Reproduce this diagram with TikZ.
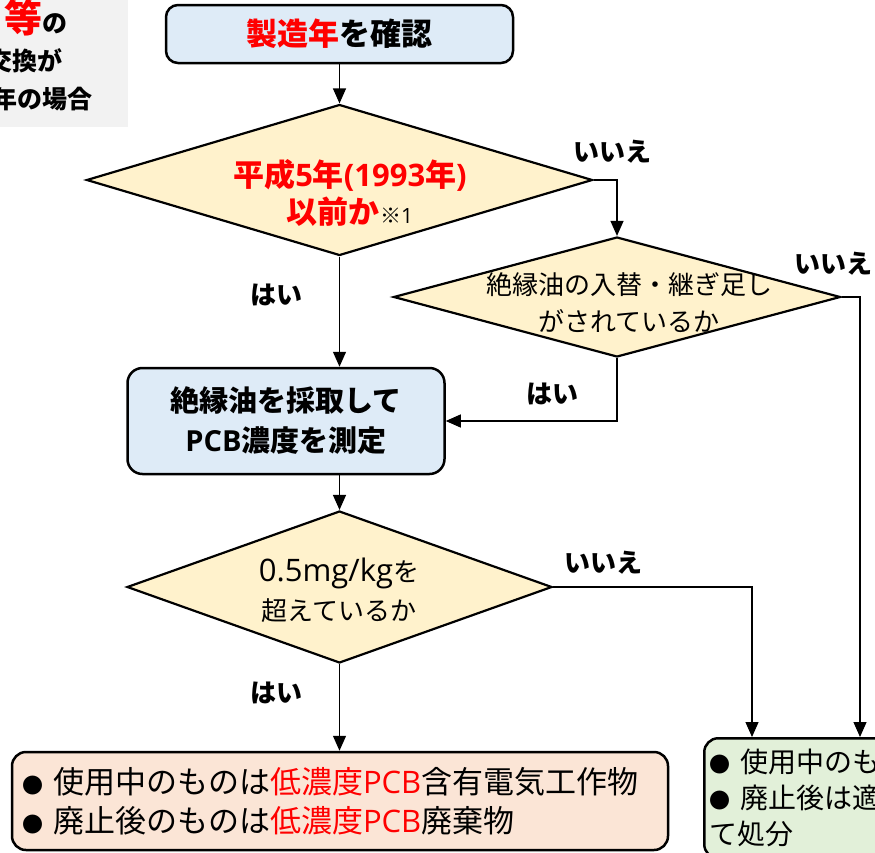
\documentclass[tikz,border=0pt]{standalone}
\usepackage{fontspec}
\setmainfont{Noto Sans CJK JP}
\newfontfamily\latinfont{Open Sans}
\usetikzlibrary{shapes.geometric,arrows.meta,positioning,calc}
\definecolor{boxblue}{HTML}{DEEBF7}
\definecolor{boxyellow}{HTML}{FFF2CC}
\definecolor{boxpink}{HTML}{FBE5D6}
\definecolor{boxgreen}{HTML}{E2F0D9}
\definecolor{boxgray}{HTML}{F2F2F2}
\definecolor{textred}{HTML}{FF0000}
\newcommand{\fs}[2]{\fontsize{#1}{#2}\selectfont}
\newcommand{\lat}[1]{{\latinfont #1}}
\newcommand{\dotmark}{{\fs{21}{21}●}\hspace{10pt}}

\begin{document}
\begin{tikzpicture}[x=1pt, y=-1pt,
		process/.style={draw, line width=2.5pt, rounded corners=12pt, fill=boxblue, inner sep=0pt, align=center},
		decision/.style={draw, diamond, line width=2.2pt, fill=boxyellow, inner sep=0pt},
		result/.style={draw, line width=2.5pt, rounded corners=14pt, align=left},
		flow/.style={line width=1.2pt, -{Triangle[length=15pt,width=13pt]}},
		answer/.style={font=\fs{26}{26}\bfseries, inner sep=0pt},
		note/.style={font=\fs{25}{25}\bfseries, inner sep=0pt}
		]
	\useasboundingbox (0,0) rectangle (875,852);
	\clip (0,0) rectangle (875,852);
	% note box, cut off at the left
	\fill[boxgray] (-250,-10) rectangle (128,127);
	\node[note, anchor=base east] (note1) at (68,32) {{\color{textred}\fs{38}{38}等}の};
	\node[note, anchor=base east] (note2) at (63,70) {交換が};
	\node[note, anchor=base east] (note3) at (93,108) {年の場合};

	% flow
	\node[process, minimum width=347pt, minimum height=58pt, font=\fs{31}{31}\bfseries] (year) at (339.5,34)
		{\textcolor{textred}{製造年}を確認};
	\node[decision, minimum width=506pt, minimum height=151pt] (d1) at (339.5,180) {};
	\node[font=\fs{31}{37}\bfseries, text=textred, align=center, inner sep=0pt] (d1t) at (350,193)
		{平成\lat{5}年\lat{(1993}年\lat{)}\\以前か\textcolor{black}{\mdseries\fs{21}{21}※\lat{1}}};
	\node[decision, minimum width=447pt, minimum height=120pt] (d2) at (617,297) {};
	\node[font=\fs{26}{37}, align=center, inner sep=0pt] (d2t) at (629,303)
		{絶縁油の入替・継ぎ足し\\がされているか};
	\node[process, minimum width=317pt, minimum height=106pt, rounded corners=15pt, font=\fs{29}{40}\bfseries] (oil) at (286,421)
		{絶縁油を採取して\\\lat{PCB}濃度を測定};
	\node[decision, minimum width=425pt, minimum height=152pt] (d3) at (339.5,587) {};
	\node[font=\fs{26}{39}, align=center, inner sep=0pt] (d3t) at (339,590)
		{{\latinfont\fs{31}{39}0.5mg/kg}を\\超えているか};
	\node[result, fill=boxpink, minimum height=98pt, text width=636pt, inner xsep=10pt, inner ysep=0pt, font=\fs{31}{39}] (low) at (340,801)
		{\dotmark 使用中のものは\textcolor{textred}{低濃度\lat{PCB}}含有電気工作物\\\dotmark 廃止後のものは\textcolor{textred}{低濃度\lat{PCB}}廃棄物};
	\node[result, fill=boxgreen, anchor=north west, minimum height=120pt, text width=390pt, inner xsep=5pt, inner ysep=0pt, font=\fs{28}{36}] (other) at (703,737)
		{\dotmark 使用中のものは\\\dotmark 廃止後は適正に処理し\\て処分};
	\coordinate (other1) at ([xshift=49pt]other.north west);
	\coordinate (other2) at ([xshift=157pt]other.north west);

	% connectors
	\draw[flow] (year.south) -- (d1.north);
	\draw[flow] (d1.east) -| (d2.north);
	\draw[flow] (d1.south) -- (d1.south |- oil.north);
	\draw[flow] (d2.south) |- (oil.east);
	\draw[flow] (d2.east) -| (other2);
	\draw[flow] (d3.north |- oil.south) -- (d3.north);
	\draw[flow] (d3.east) -| (other1);
	\draw[flow] (d3.south) -- (d3.south |- low.north);

	% answers
	\node[answer] (no1) at (612,152) {いいえ};
	\node[answer] (no2) at (833,264) {いいえ};
	\node[answer] (no3) at (603,563) {いいえ};
	\node[answer] (yes1) at (276,295) {はい};
	\node[answer] (yes2) at (552,394) {はい};
	\node[answer] (yes3) at (276,693) {はい};
\end{tikzpicture}
\end{document}
